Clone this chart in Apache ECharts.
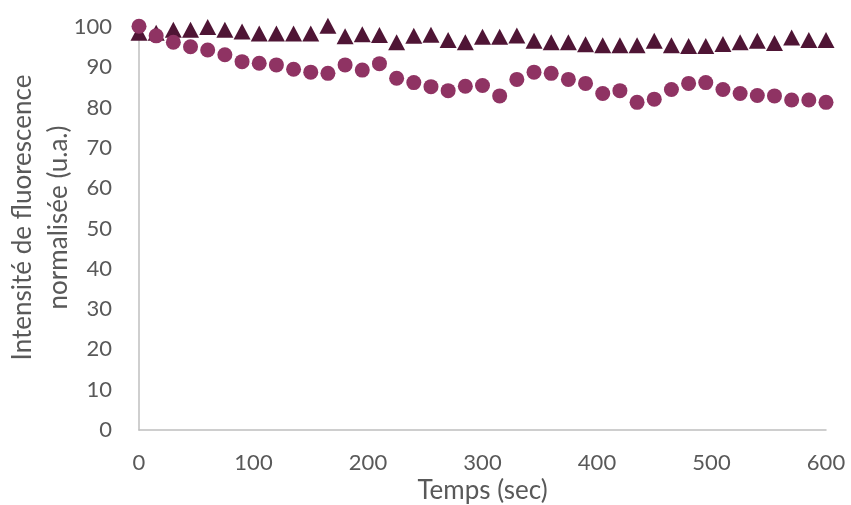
<!DOCTYPE html>
<html><head><meta charset="utf-8">
<script src="https://cdn.jsdelivr.net/npm/echarts@6/dist/echarts.min.js"></script>
<style>html,body{margin:0;padding:0;background:#fff}#c{width:851px;height:505px}</style>
</head><body><div id="c"></div>
<script>
const times = [0,15,30,45,60,75,90,105,120,135,150,165,180,195,210,225,240,255,270,285,300,315,330,345,360,375,390,405,420,435,450,465,480,495,510,525,540,555,570,585,600];
const circleValues = [100.2,97.8,96.2,95.1,94.3,93.1,91.4,91.0,90.6,89.5,88.8,88.5,90.6,89.3,90.9,87.3,86.2,85.2,84.2,85.3,85.5,82.9,87.0,88.8,88.5,87.0,86.0,83.5,84.2,81.3,82.1,84.5,86.0,86.2,84.5,83.5,83.0,82.9,81.9,81.9,81.3];
const triangleValues = [98.6,98.6,99.3,99.3,100.0,99.3,98.9,98.4,98.4,98.4,98.4,100.3,97.7,98.2,98.0,96.2,97.8,98.1,96.8,96.2,97.6,97.6,97.9,96.6,96.2,96.2,95.7,95.5,95.5,95.5,96.6,95.5,95.3,95.3,95.8,96.2,96.6,96.0,97.4,96.8,96.8];
const xTicks = [0,100,200,300,400,500,600];
const yTicks = [0,10,20,30,40,50,60,70,80,90,100];

const font = 'Lato';
const grey = '#595959';
const chart = echarts.init(document.getElementById('c'));
chart.setOption({
  animation: false,
  grid: {left: 139, right: 25, top: 27, bottom: 75, outerBoundsMode: 'none', containLabel: false},
  xAxis: {
    type: 'value', min: 0, max: 600, interval: 100,
    name: 'Temps (sec)', nameLocation: 'middle', nameGap: 48, nameMoveOverlap: false,
    nameTextStyle: {fontFamily: font, fontSize: 26, color: grey},
    axisLine: {show: true, lineStyle: {color: '#bfbfbf', width: 1.5}},
    axisTick: {show: false},
    splitLine: {show: false},
    axisLabel: {fontFamily: font, fontSize: 22, color: grey, margin: 22,
      formatter: v => xTicks.includes(v) ? String(v) : ''}
  },
  yAxis: {
    type: 'value', min: 0, max: 100, interval: 10,
    name: 'Intensité de fluorescence\nnormalisée (u.a.)', nameLocation: 'middle', nameGap: 62, nameMoveOverlap: false,
    nameTextStyle: {fontFamily: font, fontSize: 26, color: grey, lineHeight: 36, padding: [0, 0, 0, 22]},
    axisLine: {show: true, lineStyle: {color: '#bfbfbf', width: 1.5}},
    axisTick: {show: false},
    splitLine: {show: false},
    axisLabel: {fontFamily: font, fontSize: 22, color: grey, margin: 27,
      formatter: v => yTicks.includes(v) ? String(v) : ''}
  },
  series: [
    {
      type: 'scatter', symbol: 'triangle', symbolSize: [17, 16], clip: false,
      itemStyle: {color: '#4F1535', opacity: 1},
      data: times.map((t, i) => [t, triangleValues[i]])
    },
    {
      type: 'scatter', symbol: 'circle', symbolSize: 15, clip: false,
      itemStyle: {color: '#8F3363', opacity: 1},
      data: times.map((t, i) => [t, circleValues[i]])
    }
  ]
});
</script>
</body></html>
